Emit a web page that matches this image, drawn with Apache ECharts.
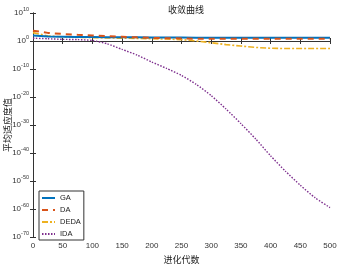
<!DOCTYPE html>
<html>
<head>
<meta charset="utf-8">
<script src="https://cdn.jsdelivr.net/npm/echarts@6/dist/echarts.min.js"></script>
<style>
  html, body { margin: 0; padding: 0; background: #fff; }
  #chart { width: 338px; height: 264px; }
</style>
</head>
<body>
<div id="chart"></div>
<script>
// generations (x) and log10 of the average fitness
var generations = [0,25,50,75,100,125,150,175,200,225,250,275,300,325,350,375,400,425,450,475,500];
var gaExp   = [2.0,1.6,1.5,1.4,1.4,1.35,1.3,1.3,1.25,1.25,1.25,1.2,1.2,1.2,1.2,1.2,1.2,1.2,1.2,1.2,1.2];
var daExp   = [3.7,2.9,2.5,2.2,2.0,1.7,1.5,1.3,1.1,1.0,0.9,0.8,0.8,0.8,0.8,0.8,0.8,0.8,0.8,0.8,0.8];
var dedaExp = [3.0,1.8,1.5,1.3,1.2,1.1,1.0,0.9,0.8,0.7,0.5,0.0,-0.6,-1.3,-1.8,-2.3,-2.6,-2.7,-2.7,-2.7,-2.7];
var idaExp  = [1.0,0.8,0.6,0.5,0.2,-1.0,-3,-5,-7.5,-9.8,-12.3,-15.5,-19.5,-24.3,-29.5,-35,-41,-46.5,-51.5,-56,-59.5];
// y axis is log scale: ticks are decades 10^-70 .. 10^10
var yMinExp = -70, yMaxExp = 10, yStepExp = 10;

function pairs(exps){
  return generations.map(function(g, i){ return [g, exps[i]]; });
}

var chart = echarts.init(document.getElementById('chart'));
var font = 'Liberation Sans';
var supLabel = function(e){
  return '{b|10}{s|' + e + '}';
};

option = {
  animation: false,
  title: {
    text: '收敛曲线', left: 181, top: 0, textAlign: 'center',
    textStyle: {fontFamily: 'Noto Sans CJK SC', fontSize: 9, fontWeight: 'normal', color: '#222'}
  },
  grid: {left: 33, right: 8, top: 13, bottom: 27, outerBoundsMode: 'none', containLabel: false},
  legend: {
    orient: 'vertical', left: 39, top: 191,
    itemWidth: 13, itemHeight: 6, itemGap: 4,
    padding: [3, 3, 2, 2],
    borderColor: '#333', borderWidth: 1, backgroundColor: '#fff',
    itemStyle: {opacity: 0},
    textStyle: {fontFamily: font, fontSize: 7.5, color: '#222'},
    data: ['GA', 'DA', 'DEDA', 'IDA']
  },
  xAxis: [{
    type: 'value', min: 0, max: 500, interval: 50,
    name: '进化代数', nameLocation: 'middle', nameGap: 17,
    nameTextStyle: {fontFamily: 'Noto Sans CJK SC', fontSize: 9, color: '#222'},
    axisLine: {lineStyle: {color: '#333'}},
    axisTick: {inside: true, length: 3, lineStyle: {color: '#333'}},
    axisLabel: {fontFamily: font, fontSize: 8, color: '#333', margin: 5},
    splitLine: {show: false}
  }, {
    type: 'value', position: 'top', min: 0, max: 500, interval: 50,
    axisLine: {lineStyle: {color: '#333'}},
    axisTick: {inside: true, length: 3, lineStyle: {color: '#333'}},
    axisLabel: {show: false}, splitLine: {show: false}
  }],
  yAxis: [{
    type: 'value', min: yMinExp, max: yMaxExp, interval: yStepExp,
    name: '平均适应度值', nameLocation: 'middle', nameGap: 21, nameRotate: 90,
    nameMoveOverlap: false,
    nameTextStyle: {fontFamily: 'Noto Sans CJK SC', fontSize: 9, color: '#222'},
    axisLine: {show: true, lineStyle: {color: '#333'}},
    axisTick: {show: true, inside: true, length: 3, lineStyle: {color: '#333'}},
    axisLabel: {
      formatter: supLabel, margin: 4,
      rich: {
        b: {fontFamily: font, fontSize: 8, color: '#333'},
        s: {fontFamily: font, fontSize: 5.5, color: '#333', verticalAlign: 'bottom', padding: [0, 0, 7, 0]}
      }
    },
    splitLine: {show: false}
  }, {
    type: 'value', min: yMinExp, max: yMaxExp, interval: yStepExp, position: 'right',
    axisLine: {show: true, lineStyle: {color: '#333'}},
    axisTick: {show: true, inside: true, length: 3, lineStyle: {color: '#333'}},
    axisLabel: {show: false}, splitLine: {show: false}
  }],
  series: [
    {name: 'GA', type: 'line', symbol: 'none', data: pairs(gaExp), z: 4,
     lineStyle: {color: '#0072BD', width: 2}, itemStyle: {color: '#0072BD'}},
    {name: 'DA', type: 'line', symbol: 'none', data: pairs(daExp), z: 5,
     lineStyle: {color: '#D95319', width: 2, type: [6, 5]}, itemStyle: {color: '#D95319'}},
    {name: 'DEDA', type: 'line', symbol: 'none', data: pairs(dedaExp), z: 3,
     lineStyle: {color: '#EDB120', width: 1.6, type: [6, 2, 2, 2]}, itemStyle: {color: '#EDB120'}},
    {name: 'IDA', type: 'line', symbol: 'none', smooth: 0.2, data: pairs(idaExp), z: 2,
     lineStyle: {color: '#7E2F8E', width: 1.4, type: [1.5, 1.5]}, itemStyle: {color: '#7E2F8E'}}
  ]
};
chart.setOption(option);
</script>
</body>
</html>
